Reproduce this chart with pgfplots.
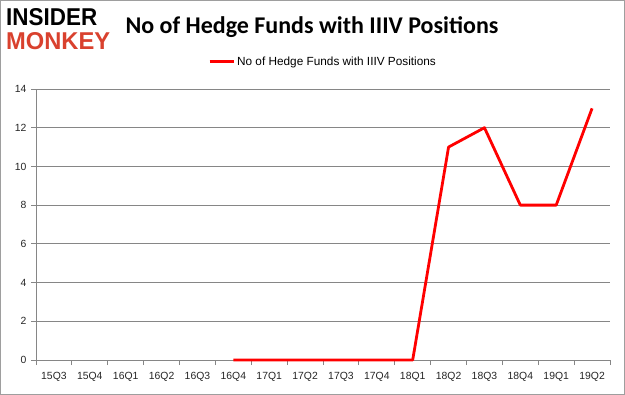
\documentclass[border=0pt]{standalone}
\usepackage{pgfplots}
\pgfplotsset{compat=1.18}
\usepackage{fontspec}
\setmainfont{Liberation Sans}
\newfontfamily\titlefont{Carlito}
\definecolor{gridgray}{HTML}{868686}
\definecolor{monkeyred}{HTML}{D9412E}
\begin{document}
\begin{tikzpicture}[x=1pt,y=1pt]
\draw[gridgray!80, line width=1.2pt] (0.6,0.6) rectangle (624.4,394.4);
\node[anchor=north west, inner sep=0pt] at (6,386.5) {\resizebox{91pt}{17pt}{\bfseries INSIDER}};
\node[anchor=north west, inner sep=0pt] at (6,362.5) {\resizebox{104pt}{17pt}{\color{monkeyred}\bfseries MONKEY}};
\node[anchor=center, inner sep=0pt] at (312,368) {\titlefont\fontsize{24}{28}\selectfont\bfseries No of Hedge Funds with IIIV Positions};
\begin{axis}[
  at={(36pt,35pt)}, anchor=south west,
  scale only axis, width=574pt, height=271pt,
  xmin=-0.5, xmax=15.5, ymin=0, ymax=14,
  axis lines*=left,
  axis line style={gridgray, line width=0.8pt, -},
  xtick={0,...,15},
  xticklabels={15Q3,15Q4,16Q1,16Q2,16Q3,16Q4,17Q1,17Q2,17Q3,17Q4,18Q1,18Q2,18Q3,18Q4,19Q1,19Q2},
  major x tick style={draw=none},
  minor xtick={-0.5,0.5,...,15.5},
  minor x tick style={gridgray, line width=0.8pt},
  minor tick length=5pt,
  ytick={0,2,...,14},
  major y tick style={gridgray, line width=0.8pt},
  major tick length=5pt,
  tick align=outside,
  ymajorgrids,
  grid style={gridgray, line width=0.8pt},
  tick label style={font=\fontsize{10.4}{12}\selectfont, text=black!85},
  /pgf/number format/assume math mode=true,
  xticklabel style={yshift=-4pt},
  yticklabel style={xshift=-1pt},
  legend style={at={(0.5,1.1)}, anchor=center, draw=none, fill=none,
    font=\fontsize{11.8}{13}\selectfont, inner sep=0pt},
  legend image code/.code={\draw[#1, line width=3pt] (0pt,0pt) -- (24pt,0pt);},
  clip=false,
]
\addplot[red, line width=2.8pt, line join=round] coordinates {
  (5,0) (6,0) (7,0) (8,0) (9,0) (10,0) (11,11) (12,12) (13,8) (14,8) (15,13)
};
\addlegendentry{No of Hedge Funds with IIIV Positions}
\end{axis}
\end{tikzpicture}
\end{document}
